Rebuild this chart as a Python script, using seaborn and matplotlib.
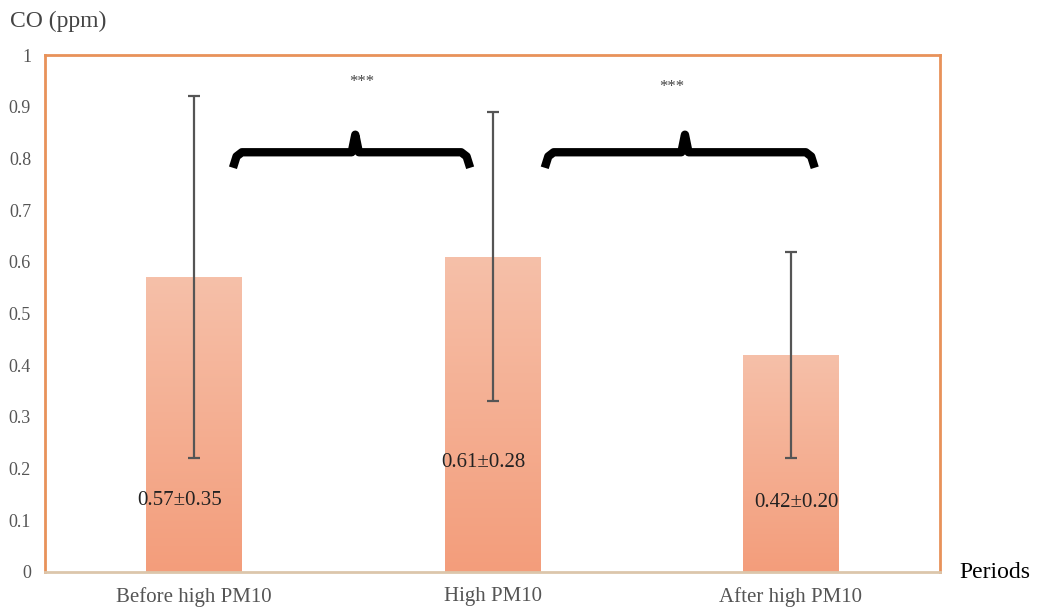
import numpy as np
import pandas as pd
import matplotlib.pyplot as plt
import matplotlib.colors as mcolors
import seaborn as sns

# data
periods = ['Before high PM10', 'High PM10', 'After high PM10']
means = [0.57, 0.61, 0.42]
sds = [0.35, 0.28, 0.20]
labels = ['0.57±0.35', '0.61±0.28', '0.42±0.20']
label_y = [0.139, 0.211, 0.135]
label_dx = [-0.05, -0.03, 0.02]
# significance braces: (start, end, centre) in category units
braces = [(0.13, 0.925, 0.54), (1.175, 2.08, 1.645)]
star_pos = [(0.56, 0.948), (1.6, 0.938)]

df = pd.DataFrame({'period': periods, 'co': means})

sns.set_style('white')
plt.rcParams['font.family'] = ['Liberation Serif', 'DejaVu Serif']

fig = plt.figure(figsize=(10.37, 6.12), dpi=100)
ax = fig.add_axes([0.0434, 0.0654, 0.8631, 0.8446])

sns.barplot(data=df, x='period', y='co', color='#f4ab8c', width=0.32, ax=ax,
            saturation=1, edgecolor='none')

# vertical gradient on bars
cmap = mcolors.LinearSegmentedColormap.from_list('g', ['#f39d7b', '#f6c0a9'])
grad = np.linspace(0, 1, 256).reshape(-1, 1)
for p in ax.patches:
    x0, y0 = p.get_x(), p.get_y()
    w, h = p.get_width(), p.get_height()
    im = ax.imshow(grad, cmap=cmap, origin='lower', aspect='auto',
                   extent=[x0, x0 + w, y0, y0 + h], zorder=p.get_zorder() + 0.1)
    im.set_clip_path(p)

ax.errorbar(np.arange(len(periods)), means, yerr=sds, fmt='none',
            ecolor='#555555', elinewidth=1.6, capsize=4, capthick=1.6, zorder=5)

for i, (t, yy, dx) in enumerate(zip(labels, label_y, label_dx)):
    ax.text(i + dx, yy, t, ha='center', va='center', fontsize=15, color='#222222', zorder=6)

for (a, b, c) in braces:
    yl, ym, yp = 0.782, 0.812, 0.846
    xs = [a, a + 0.012, a + 0.03, c - 0.012, c, c + 0.012, b - 0.03, b - 0.012, b]
    ys = [yl, ym - 0.008, ym, ym, yp, ym, ym, ym - 0.008, yl]
    ax.plot(xs, ys, color='black', lw=6, solid_capstyle='butt',
            solid_joinstyle='round', zorder=6)

for (sx, sy) in star_pos:
    ax.text(sx, sy, '***', ha='center', va='center', fontsize=12, color='#444444')

ax.set_xlim(-0.5, 2.5)
ax.set_ylim(0, 1)
ax.set_yticks(np.arange(0, 1.01, 0.1))
ax.set_yticklabels(['0'] + [f'{v:.1f}' for v in np.arange(0.1, 0.95, 0.1)] + ['1'])
ax.tick_params(axis='y', length=0, pad=10, labelsize=13, labelcolor='#555555')
ax.tick_params(axis='x', length=0, pad=11, labelsize=15, labelcolor='#555555')
ax.set_xlabel('')
ax.set_ylabel('')

for s in ['left', 'top', 'right']:
    ax.spines[s].set_color('#e8925a')
    ax.spines[s].set_linewidth(2)
ax.spines['bottom'].set_color('#dcc6ab')
ax.spines['bottom'].set_linewidth(2)

fig.text(0.01, 0.965, 'CO (ppm)', fontsize=17, color='#444444', va='center')
fig.text(0.925, 0.065, 'Periods', fontsize=17, color='black', va='center')

fig.savefig('out.png', dpi=100)
